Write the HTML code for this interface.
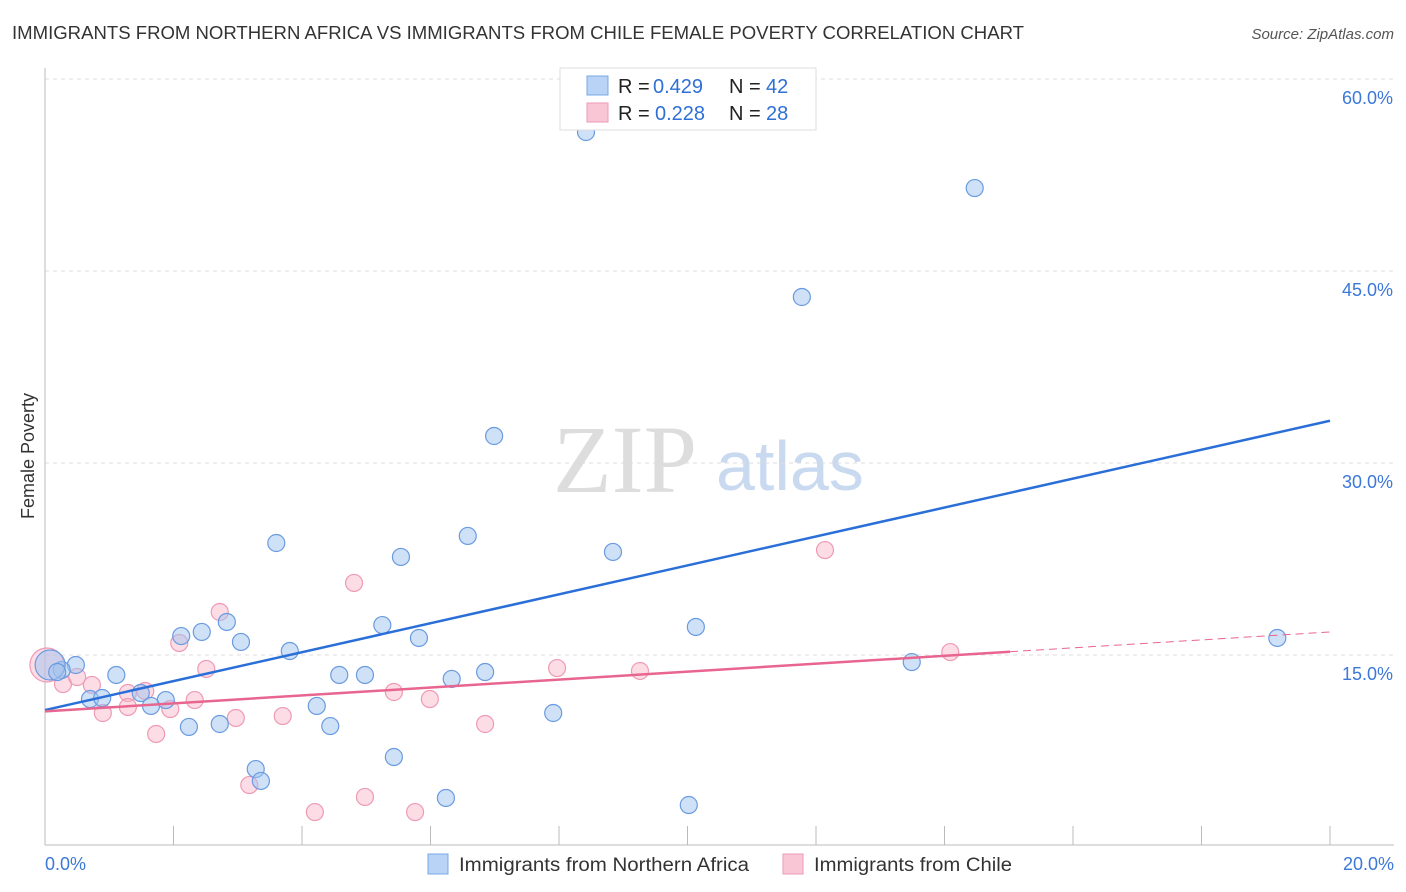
<!DOCTYPE html>
<html><head><meta charset="utf-8"><style>
body{margin:0;background:#fff;font-family:"Liberation Sans",sans-serif}
svg{display:block}
</style></head><body>
<svg id="c" width="1406" height="892">
<text x="12" y="39" font-size="18" fill="#333" textLength="1012" lengthAdjust="spacingAndGlyphs">IMMIGRANTS FROM NORTHERN AFRICA VS IMMIGRANTS FROM CHILE FEMALE POVERTY CORRELATION CHART</text>
<text x="1394" y="39" font-size="15" fill="#555" font-style="italic" text-anchor="end">Source: ZipAtlas.com</text>
<text x="34" y="456" font-size="18" fill="#333" transform="rotate(-90 34 456)" text-anchor="middle">Female Poverty</text>
<text x="553" y="492" font-size="96" fill="#ddd" font-family="Liberation Serif,serif">ZIP</text>
<text x="716" y="490" font-size="70" fill="#c9d9f0">atlas</text>
<g id="grid"></g><g id="marks"></g>
<g>
<rect x="560" y="68" width="256" height="62" fill="#fff" stroke="#ddd"/>
<rect x="587" y="76" width="21" height="19" fill="#b8d3f5" stroke="#7aa7e6"/>
<rect x="587" y="103" width="21" height="19" fill="#f9c6d6" stroke="#ef9ab5"/>
<text x="618" y="93" font-size="20" fill="#222">R =</text>
<text x="653" y="93" font-size="20" fill="#2f6fd6">0.429</text>
<text x="729" y="93" font-size="20" fill="#222">N =</text>
<text x="766" y="93" font-size="20" fill="#2f6fd6">42</text>
<text x="618" y="120" font-size="20" fill="#222">R =</text>
<text x="655" y="120" font-size="20" fill="#2f6fd6">0.228</text>
<text x="729" y="120" font-size="20" fill="#222">N =</text>
<text x="766" y="120" font-size="20" fill="#2f6fd6">28</text>
</g>
<g>
<rect x="428" y="854" width="20" height="20" fill="#b8d3f5" stroke="#7aa7e6"/>
<text x="459" y="871" font-size="19" fill="#333" textLength="290" lengthAdjust="spacingAndGlyphs">Immigrants from Northern Africa</text>
<rect x="783" y="854" width="20" height="20" fill="#f9c6d6" stroke="#ef9ab5"/>
<text x="814" y="871" font-size="19" fill="#333" textLength="198" lengthAdjust="spacingAndGlyphs">Immigrants from Chile</text>
</g>
</svg>
<script>
const yTicks=[15,30,45,60];
const xTickLabels=["0.0%","20.0%"];
const blueX=[8.42,14.47,11.78,6.99,6.58,3.60,5.54,8.84,2.12,2.44,2.83,3.05,3.81,5.25,5.82,10.13,19.18,13.49,0.48,0.26,0.08,1.11,0.70,0.89,1.49,1.88,1.65,4.23,4.58,4.98,6.33,6.85,2.24,2.72,4.44,7.91,3.28,3.36,5.43,6.24,10.02,0.19];
const blueY=[55.86,51.48,42.97,32.11,24.30,23.75,22.66,23.05,16.48,16.80,17.58,16.02,15.31,17.34,16.33,17.19,16.33,14.45,14.22,13.83,14.22,13.44,11.56,11.64,12.03,11.48,11.02,11.02,13.44,13.44,13.13,13.67,9.38,9.61,9.45,10.47,6.09,5.16,7.03,3.83,3.28,13.67];
const pinkX=[0.03,0.28,0.50,0.73,0.90,1.29,1.56,1.73,1.95,2.09,2.33,2.51,2.72,2.97,3.18,3.70,4.20,4.81,4.98,5.43,5.76,5.99,6.85,7.97,9.26,12.14,14.09,1.29];
const pinkY=[14.22,12.73,13.28,12.66,10.47,12.03,12.19,8.83,10.78,15.94,11.48,13.91,18.36,10.08,4.84,10.23,2.73,20.63,3.91,12.11,2.73,11.56,9.61,13.98,13.75,23.20,15.23,10.94];
const blueTrend=[10.7,33.3];
const pinkTrend=[10.6,16.8];
const X=v=>45+v*64.25, Y=v=>847-v*12.8;
const NS="http://www.w3.org/2000/svg";
function mk(t,a,p){const e=document.createElementNS(NS,t);for(const k in a)e.setAttribute(k,a[k]);p.appendChild(e);return e;}
const g=document.getElementById('grid'),m=document.getElementById('marks');
yTicks.forEach(v=>{
 const l=mk('line',{x1:45,x2:1394,y1:Y(v),y2:Y(v),stroke:'#ddd','stroke-dasharray':'4,4'},g);
 
 
 const t=mk('text',{x:1393,y:Y(v)+25,'font-size':18,fill:'#3b78d8','text-anchor':'end'},g);
 t.textContent=v.toFixed(1)+'%';
 
 
});
mk('line',{x1:45,x2:45,y1:68,y2:845,stroke:'#bbb'},g);
mk('line',{x1:45,x2:1394,y1:845,y2:845,stroke:'#bbb'},g);
for(let i=1;i<=10;i++){const t=mk('line',{x1:X(i*2),x2:X(i*2),y1:826,y2:845,stroke:'#bbb'},g);
 
 }
xTickLabels.forEach((s,i)=>{const t=mk('text',{x:i?1394:45,y:870,'font-size':18,fill:'#3b78d8','text-anchor':i?'end':'start'},g);t.textContent=s;
 
 });
function dots(xs,ys,fill,stroke,name){xs.forEach((x,i)=>{
 const r=(name==='pink-point'&&i===0)?17:(name==='blue-point'&&i===20?15:8.5);
 const c=mk('circle',{cx:X(x),cy:Y(ys[i]),r:r,fill:fill,stroke:stroke,'stroke-width':1.2},m);
 
 });}
dots(pinkX,pinkY,'rgba(249,180,200,0.45)','#ef9ab5','pink-point');
dots(blueX,blueY,'rgba(160,195,240,0.5)','#6a9be0','blue-point');
const bl=mk('line',{x1:X(0),y1:Y(blueTrend[0]),x2:X(20),y2:Y(blueTrend[1]),stroke:'#2a6fd8','stroke-width':2.5},m);


const pe=(v)=>pinkTrend[0]+(pinkTrend[1]-pinkTrend[0])*v/20;
const pl=mk('line',{x1:X(0),y1:Y(pe(0)),x2:X(15.02),y2:Y(pe(15.02)),stroke:'#e8658f','stroke-width':2.5},m);


const pd=mk('line',{x1:X(15.02),y1:Y(pe(15.02)),x2:X(20),y2:Y(pe(20)),stroke:'#e8658f','stroke-width':1,'stroke-dasharray':'8,5'},m);


</script>
</body></html>
